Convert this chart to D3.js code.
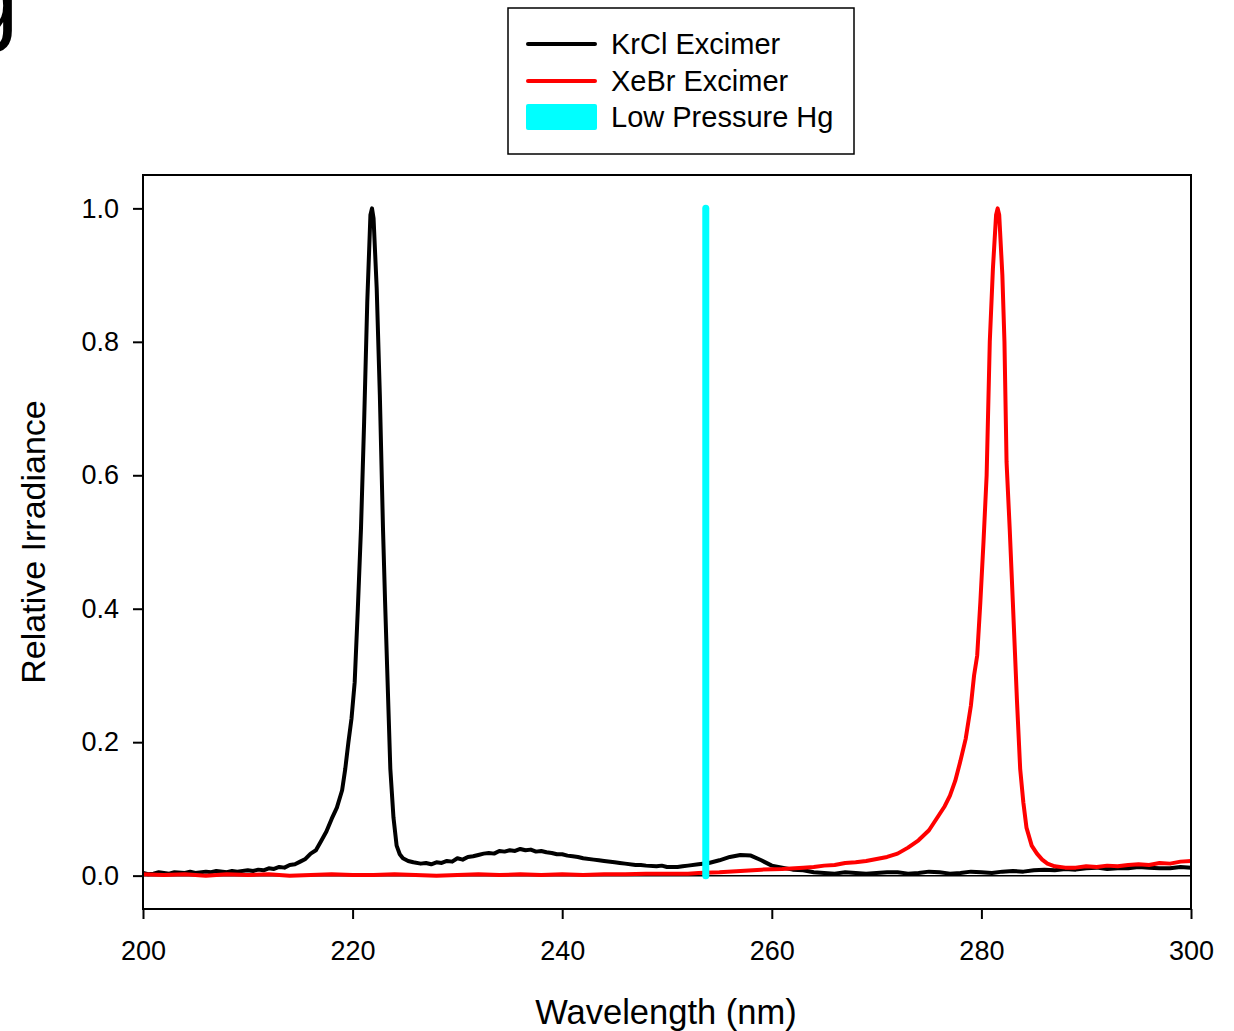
<!DOCTYPE html>
<html>
<head>
<meta charset="utf-8">
<script src="https://cdn.jsdelivr.net/npm/d3@7"></script>
<style>
  body { margin: 0; background: #fff; }
  text { font-family: "Liberation Sans", Arial, sans-serif; fill: #000; }
</style>
</head>
<body>
<svg id="chart" width="1234" height="1031"></svg>
<script>
// spectra: [wavelength nm, relative irradiance]
const krcl = [
  [200,0.004],[200.5,0.002],[201,0.003],[201.5,0.005],[202,0.004],[202.5,0.003],[203,0.005],[204,0.004],
  [204.5,0.006],[205,0.004],[206,0.006],[206.5,0.005],[207,0.007],[208,0.005],[208.5,0.007],[209,0.006],
  [210,0.008],[210.5,0.007],[211,0.009],[211.5,0.008],[212,0.011],[212.5,0.010],[213,0.013],[213.5,0.012],
  [214,0.016],[214.5,0.017],[215,0.021],[215.5,0.025],[216,0.033],[216.5,0.038],[217,0.052],[217.5,0.066],
  [218,0.085],[218.5,0.102],[219,0.128],
  [219.3,0.160],[219.6,0.200],[219.9,0.236],[220.2,0.290],[220.5,0.400],[220.8,0.52],[221.1,0.68],
  [221.4,0.86],[221.7,0.99],[221.85,1.0],[222.0,0.985],[222.3,0.88],[222.6,0.72],[222.9,0.52],
  [223.1,0.41],[223.3,0.31],[223.6,0.16],[223.9,0.087],[224.2,0.045],[224.5,0.032],[224.8,0.026],
  [225.3,0.022],[225.8,0.020],[226.5,0.018],[227,0.019],[227.5,0.017],[228,0.020],[228.5,0.019],[229,0.022],
  [229.5,0.021],[230,0.026],[230.5,0.024],[231,0.028],[231.5,0.029],[232,0.031],[232.5,0.033],[233,0.034],
  [233.5,0.033],[234,0.037],[234.5,0.036],[235,0.038],[235.5,0.037],[236,0.040],[236.5,0.038],[237,0.039],
  [237.5,0.036],[238,0.037],[238.5,0.035],[239,0.034],[239.5,0.032],[240,0.032],[240.5,0.030],[241,0.029],
  [241.5,0.028],[242,0.026],[243,0.024],[243.5,0.023],[244,0.022],[245,0.020],[245.5,0.019],[246,0.018],
  [247,0.016],[247.5,0.016],[248,0.015],[249,0.014],[249.5,0.015],[250,0.013],[251,0.013],[251.5,0.014],
  [252,0.015],[253,0.017],[254,0.019],
  [255,0.023],[256,0.028],[257,0.031],[258,0.030],[259,0.023],[260,0.015],[261,0.012],[262,0.009],
  [263,0.008],[264,0.005],[265,0.004],[266,0.003],[267,0.005],[268,0.004],[269,0.003],[270,0.004],
  [271,0.005],[272,0.005],[273,0.003],[274,0.004],[275,0.006],[276,0.005],[277,0.003],[278,0.004],
  [279,0.006],[280,0.005],[281,0.004],[282,0.006],[283,0.007],[284,0.006],[285,0.008],[286,0.009],
  [287,0.008],[288,0.010],[289,0.009],[290,0.011],[291,0.012],[292,0.010],[293,0.011],[294,0.011],
  [295,0.013],[296,0.012],[297,0.011],[298,0.011],[299,0.013],[300,0.012]
];

const xebr = [
  [200,0.002],[202,0.001],[204,0.002],[206,0.000],[208,0.002],[210,0.001],[212,0.002],[214,0.000],
  [216,0.001],[218,0.002],[220,0.001],[222,0.001],[224,0.002],[226,0.001],[228,0.000],[230,0.001],
  [232,0.002],[234,0.001],[236,0.002],[238,0.001],[240,0.002],[242,0.001],[244,0.002],[246,0.002],
  [248,0.003],[250,0.003],[252,0.003],[253,0.004],[255,0.005],[257,0.007],[259,0.009],[261,0.010],
  [263,0.012],[264,0.013],[265,0.015],[266,0.016],[267,0.019],[268,0.020],[269,0.022],[270,0.025],
  [271,0.028],[272,0.033],[273,0.042],
  [274,0.053],[275,0.068],[275.5,0.080],[276,0.092],[276.5,0.104],[277,0.120],[277.5,0.142],
  [278,0.172],[278.5,0.205],[279,0.255],[279.3,0.30],[279.6,0.33],[279.9,0.41],[280.2,0.50],
  [280.5,0.60],[280.8,0.80],[281.1,0.91],[281.4,0.99],[281.55,1.0],[281.7,0.99],[282.0,0.90],
  [282.2,0.80],[282.4,0.62],[282.7,0.52],[283.0,0.41],[283.4,0.26],[283.7,0.16],[284.0,0.11],
  [284.3,0.072],[284.8,0.045],[285.3,0.033],[285.8,0.024],[286.3,0.018],[287,0.014],[288,0.012],
  [289,0.012],[290,0.014],[291,0.013],[292,0.015],[293,0.014],[294,0.016],[295,0.017],[296,0.016],
  [297,0.019],[298,0.018],[299,0.021],[300,0.022]
];

const hgLine = [[253.7,0],[253.7,1.0]];

const xTicks = [200,220,240,260,280,300];
const yTicks = [0,0.2,0.4,0.6,0.8,1.0];
const legendLabels = ["KrCl Excimer","XeBr Excimer","Low Pressure Hg"];

const svg = d3.select("#chart");
const mLeft = 143, mRight = 1191, mTop = 175, mBottom = 909;

const x = d3.scaleLinear().domain([200,300]).range([mLeft,mRight]);
const y = d3.scaleLinear().domain([-0.05,1.05]).range([mBottom,mTop]);

// panel letter, cut off at the corner (as in the original figure)
svg.append("text").attr("x",-37).attr("y",32)
  .style("font-size","100px").text("g");

// axes
const yAxis = svg.append("g").attr("transform",`translate(${mLeft},0)`)
  .call(d3.axisLeft(y).tickValues(yTicks).tickFormat(d3.format(".1f")).tickSize(10).tickPadding(14));
const xAxis = svg.append("g").attr("transform",`translate(0,${mBottom})`)
  .call(d3.axisBottom(x).tickValues(xTicks).tickSize(10).tickPadding(22));
[xAxis,yAxis].forEach(a => {
  a.select(".domain").remove();
  a.selectAll("line").attr("stroke","#000").attr("stroke-width",2);
  a.selectAll("text").style("font-size","27px").attr("fill","#000")
    .style("font-family",'"Liberation Sans", Arial, sans-serif');
});

// zero line
svg.append("line")
  .attr("x1",mLeft).attr("x2",mRight).attr("y1",y(0)).attr("y2",y(0))
  .attr("stroke","#000").attr("stroke-width",1.5);

const line = d3.line().x(d => x(d[0])).y(d => y(d[1]));

svg.append("path").datum(krcl).attr("d",line)
  .attr("fill","none").attr("stroke","#000").attr("stroke-width",4).attr("stroke-linejoin","round");
svg.append("path").datum(xebr).attr("d",line)
  .attr("fill","none").attr("stroke","#ff0000").attr("stroke-width",4).attr("stroke-linejoin","round");
svg.append("path").datum(hgLine).attr("d",line)
  .attr("fill","none").attr("stroke","#00ffff").attr("stroke-width",7).attr("stroke-linecap","round");

// frame
svg.append("rect").attr("x",mLeft).attr("y",mTop)
  .attr("width",mRight-mLeft).attr("height",mBottom-mTop)
  .attr("fill","none").attr("stroke","#000").attr("stroke-width",2);

// axis titles
svg.append("text").attr("x",(mLeft+mRight)/2 - 1).attr("y",1024)
  .attr("text-anchor","middle").style("font-size","34.5px").text("Wavelength (nm)");
svg.append("text").attr("transform",`translate(45,${(mTop+mBottom)/2}) rotate(-90)`)
  .attr("text-anchor","middle").style("font-size","34px").text("Relative Irradiance");

// legend
const lg = svg.append("g");
lg.append("rect").attr("x",508).attr("y",8).attr("width",346).attr("height",146)
  .attr("fill","#fff").attr("stroke","#000").attr("stroke-width",1.5);
const swatch = [
  {color:"#000", y:44},
  {color:"#ff0000", y:81},
  {color:"#00ffff", y:117}
];
swatch.forEach((s,i) => {
  if (i < 2) {
    lg.append("line").attr("x1",528).attr("x2",595).attr("y1",s.y).attr("y2",s.y)
      .attr("stroke",s.color).attr("stroke-width",4).attr("stroke-linecap","round");
  } else {
    lg.append("rect").attr("x",526).attr("y",104).attr("width",71).attr("height",26)
      .attr("rx",2).attr("fill",s.color);
  }
  lg.append("text").attr("x",611).attr("y",s.y+10)
    .style("font-size","29px").text(legendLabels[i]);
});
</script>
</body>
</html>
